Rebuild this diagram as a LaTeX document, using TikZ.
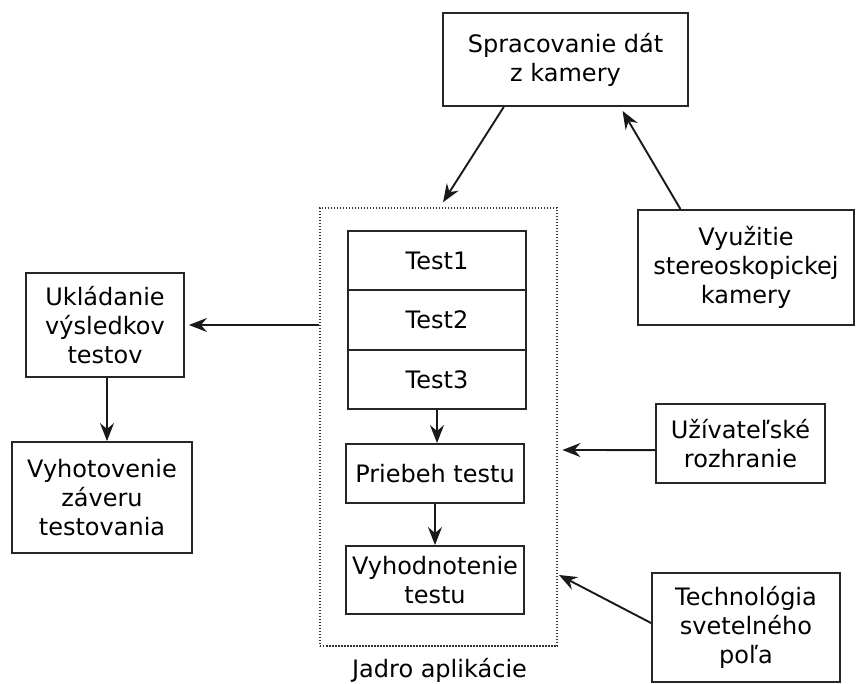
\documentclass[tikz,border=0pt]{standalone}
\usepackage{fontspec}
\setmainfont{DejaVu Sans}
\usetikzlibrary{arrows.meta,calc}
\begin{document}
\begin{tikzpicture}[x=0.5bp,y=-0.5bp,
  every node/.style={font=\fontsize{12bp}{14.5bp}\selectfont},
  box/.style={draw=black!85, line width=0.95bp, align=center, inner sep=0pt},
  core/.style={draw=black!80, line width=0.8bp, dash pattern=on 0.75bp off 0.75bp, inner sep=0pt},
  arr/.style={draw=black!90, line width=0.95bp, -{Stealth[length=9bp,width=7bp,inset=3bp]}}
]
\useasboundingbox (0,0) rectangle (856,684);
% nodes
\node[box, minimum width=122.5bp, minimum height=46.5bp] (sprac) at (565.5,59.5) {Spracovanie dát\\z kamery};
\node[box, minimum width=108bp, minimum height=57.5bp] (vyuz) at (746,267.5) {Využitie\\stereoskopickej\\kamery};
\node[core, minimum width=118.5bp, minimum height=219bp] (core) at (438.5,427) {};
\node (jadro) at (439.5,670) {Jadro aplikácie};
\node[box, minimum width=89bp, minimum height=29.75bp] (t1) at (437,260.5) {Test1};
\node[box, minimum width=89bp, minimum height=29.75bp] (t2) at (437,320) {Test2};
\node[box, minimum width=89bp, minimum height=29.75bp] (t3) at (437,379.5) {Test3};
\node[box, minimum width=89bp, minimum height=29.5bp] (prieb) at (435,473.5) {Priebeh testu};
\node[box, minimum width=89bp, minimum height=34bp] (vyhod) at (435,580) {Vyhodnotenie\\testu};
\node[box, minimum width=79bp, minimum height=52bp] (uklad) at (105,325) {Ukládanie\\výsledkov\\testov};
\node[box, minimum width=90bp, minimum height=55.5bp] (vyhot) at (102,497.5) {Vyhotovenie\\záveru\\testovania};
\node[box, minimum width=84.5bp, minimum height=39.5bp] (uziv) at (740.5,443.5) {Užívateľské\\rozhranie};
\node[box, minimum width=94bp, minimum height=54.5bp] (techn) at (746,627.5) {Technológia\\svetelného\\poľa};
% connectors
\coordinate (c1) at ([yshift=2.5bp]$(core.north west)!0.519!(core.north east)$);
\draw[arr] ($(sprac.south west)!0.25!(sprac.south east)$) -- (c1);
\coordinate (c2) at ([yshift=-2bp]$(sprac.south west)!0.731!(sprac.south east)$);
\draw[arr] ($(vyuz.north west)!0.199!(vyuz.north east)$) -- (c2);
\draw[arr] (uklad.east -| core.west) -- ([xshift=2bp]uklad.east);
\draw[arr] ([xshift=1bp]uklad.south) -- ([xshift=1bp]uklad.south |- vyhot.north);
\draw[arr] (t3.south) -- (t3.south |- prieb.north);
\draw[arr] (prieb.south) -- (vyhod.north);
\coordinate (c3) at ([xshift=2.3bp]core.east |- 0,450);
\draw[arr] ([yshift=-3.3bp]uziv.west) -- (c3);
\coordinate (c4) at (559,575);
\draw[arr] ([yshift=2.25bp]techn.west) -- (c4);
\end{tikzpicture}
\end{document}
